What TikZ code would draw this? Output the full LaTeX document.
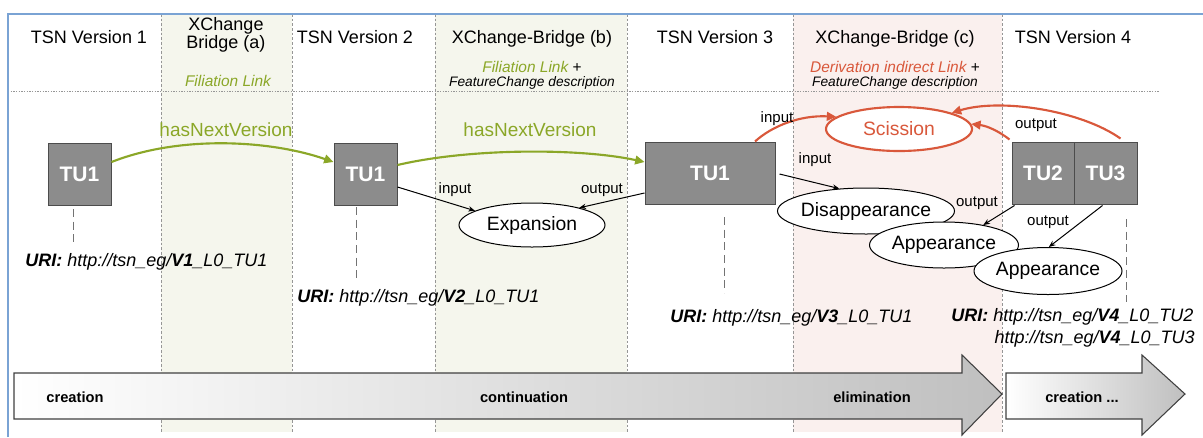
\documentclass[tikz,border=0pt]{standalone}
\usepackage{fontspec}
\setmainfont{Liberation Sans}
\usetikzlibrary{shapes.geometric,arrows.meta,calc}
\definecolor{frameblue}{RGB}{122,163,212}
\definecolor{bandgreen}{RGB}{245,246,237}
\definecolor{bandred}{RGB}{250,240,238}
\definecolor{olive}{RGB}{139,167,40}
\definecolor{redc}{RGB}{217,88,59}
\definecolor{tugray}{RGB}{140,140,140}
\definecolor{sepgray}{RGB}{150,150,150}
\begin{document}
\begin{tikzpicture}[x=0.75pt,y=-0.75pt,
 hdr/.style={font=\fontsize{13.5pt}{13.5pt}\selectfont, align=center, inner sep=0, anchor=base},
 sub/.style={font=\fontsize{11.6pt}{13pt}\selectfont, inner sep=0, anchor=base},
 subsmall/.style={font=\fontsize{10.3pt}{12pt}\selectfont\itshape, inner sep=0, anchor=base},
 hnv/.style={text=olive, font=\fontsize{14.25pt}{16pt}\selectfont, inner sep=0, anchor=base},
 tu/.style={draw=black!70, fill=tugray, text=white, font=\bfseries\fontsize{15.75pt}{18pt}\selectfont, inner sep=0, line width=0.75pt, minimum height=46.5pt},
 ev/.style={ellipse, draw, fill=white, inner sep=0, inner xsep=-4pt, font=\fontsize{14.5pt}{17pt}\selectfont, line width=0.75pt},
 io/.style={font=\fontsize{11.25pt}{13pt}\selectfont, inner sep=0, anchor=base},
 uri/.style={font=\fontsize{13.5pt}{16.5pt}\selectfont\itshape, inner sep=0},
 stem/.style={draw=black!55, dash pattern=on 6pt off 3.5pt, line width=0.6pt},
 link/.style={draw, line width=0.75pt, -{Stealth[length=5pt,width=4pt]}},
 grn/.style={draw=olive, line width=1.6pt, -{Triangle[length=7pt,width=6.5pt]}},
 redl/.style={draw=redc, line width=1.6pt, -{Triangle[length=7pt,width=6.5pt]}},
 phase/.style={draw=black!75, line width=0.8pt, left color=white, right color=black!25},
 phtext/.style={font=\bfseries\fontsize{11pt}{13pt}\selectfont, inner sep=0}
]
\useasboundingbox (0,0) rectangle (1203,437);
% bands
\fill[bandgreen] (161,14) rectangle (292,432);
\fill[bandgreen] (435,14) rectangle (627,432);
\fill[bandred] (793,14) rectangle (1002,432);
\foreach \x in {161,292,435,627,793,1002}
  \draw[sepgray, dash pattern=on 2pt off 1.5pt, line width=0.5pt] (\x,14) -- (\x,432);
\draw[sepgray, dash pattern=on 1pt off 1pt, line width=0.6pt] (8,91) -- (1160,91);
\draw[frameblue, line width=1.5pt] (8,437) -- (8,14) -- (1203,14);

% headers
\node[hdr] (h1) at (89,43) {TSN Version 1};
\node[hdr, anchor=center] (ha) at (226,35) {XChange\\Bridge (a)};
\node[hdr] (h2) at (355,43) {TSN Version 2};
\node[hdr] (hb) at (532,43) {XChange-Bridge (b)};
\node[hdr] (h3) at (715,43) {TSN Version 3};
\node[hdr] (hc) at (895,43) {XChange-Bridge (c)};
\node[hdr] (h4) at (1073,43) {TSN Version 4};

\node[sub, text=olive] (sa) at (228,86) {\itshape Filiation Link};
\node[sub] (sb1) at (532,72) {{\color{olive}\itshape Filiation Link} +};
\node[subsmall] (sb2) at (532,86) {FeatureChange description};
\node[sub] (sc1) at (895,72) {{\color{redc}\itshape Derivation indirect Link} +};
\node[subsmall] (sc2) at (895,86) {FeatureChange description};

\node[hnv] (n1) at (226,136) {hasNextVersion};
\node[hnv] (n2) at (530,136) {hasNextVersion};

% TU boxes
\node[tu, minimum width=47.25pt] (v1) at (79.5,174) {TU1};
\node[tu, minimum width=47.25pt] (v2) at (365.5,174) {TU1};
\node[tu, minimum width=97.5pt] (v3) at (710,173) {TU1};
\node[tu, minimum width=46.5pt] (tu2) at (1043,173) {TU2};
\node[tu, minimum width=47.25pt] (tu3) at (1105.5,173) {TU3};

% stems
\draw[stem] (73,209) -- (73,247);
\draw[stem] (356,207) -- (356,283);
\draw[stem] (724,217) -- (724,293);
\draw[stem] (1126,219) -- (1126,302);

% URIs
\node[uri, anchor=base west] (u1) at (25,266) {{\bfseries URI:} http://tsn\_eg/{\bfseries V1}\_L0\_TU1};
\node[uri, anchor=base west] (u2) at (297,302) {{\bfseries URI:} http://tsn\_eg/{\bfseries V2}\_L0\_TU1};
\node[uri, anchor=base west] (u3) at (670,322) {{\bfseries URI:} http://tsn\_eg/{\bfseries V3}\_L0\_TU1};
\node[uri, anchor=base west] (u4) at (951,321) {{\bfseries URI:} http://tsn\_eg/{\bfseries V4}\_L0\_TU2};
\node[uri, anchor=base east] (u5) at (1195,343) {http://tsn\_eg/{\bfseries V4}\_L0\_TU3};

% ellipses
\node[ev, minimum width=109.5pt, minimum height=33pt] (exp) at (532,225) {Expansion};
\node[ev, draw=redc, text=redc, line width=1.6pt, minimum width=109.5pt, minimum height=33pt] (sc) at (899,129) {Scission};
\node[ev, minimum width=132.75pt, minimum height=34.5pt] (dis) at (866,211) {Disappearance};
\node[ev, minimum width=111.75pt, minimum height=34.5pt] (app1) at (944,245) {Appearance};
\node[ev, minimum width=111pt, minimum height=35.25pt] (app2) at (1048,271) {Appearance};

% green links
\draw[grn] ($(v1.east)+(0,-12)$) .. controls (180,135) and (270,140) .. ($(v2.west)+(0,-12)$);
\draw[grn] ($(v2.east)+(0,-9)$) .. controls (470,148) and (580,148) .. ($(v3.west)+(0,-11)$);

% red links
\draw[redl] ($(v3.north)+(45,0)$) .. controls (772,126) and (800,115) .. (sc.169);
\draw[redl] ($(tu3.north)+(15,-3)$) .. controls (1080,110) and (1000,98) .. (sc.17);
\draw[redl] ($(tu2.north west)+(-2,-2)$) .. controls (1000,132) and (988,126) .. (sc.4);

% black links
\draw[link] ($(v2.east)+(0,13)$) -- (exp.166);
\draw[link] ($(v3.west)+(0,20)$) -- (exp.20);
\draw[link] ($(v3.east)+(4,1)$) -- (dis.140);
\draw[link] ($(tu2.south west)+(3,1)$) -- (app1.27);
\draw[link] ($(tu3.south)+(-3,1)$) -- (app2.88);

% io labels
\node[io] (i1) at (455,193) {input};
\node[io] (o1) at (602,193) {output};
\node[io] (i2) at (777,122) {input};
\node[io] (o2) at (1036,128) {output};
\node[io] (i3) at (815,163) {input};
\node[io] (o3) at (977,206) {output};
\node[io] (o4) at (1048,225) {output};

% phase arrows
\path[phase] (14,373) -- (962,373) -- (962,355) -- (1002,394) -- (962,435) -- (962,419) -- (14,419) -- cycle;
\path[phase] (1006,373) -- (1142,373) -- (1142,355) -- (1185,394) -- (1142,435) -- (1142,419) -- (1006,419) -- cycle;
\node[phtext] (p1) at (75,397) {creation};
\node[phtext] (p2) at (524,397) {continuation};
\node[phtext] (p3) at (872,397) {elimination};
\node[phtext] (p4) at (1082,397) {creation ...};
\end{tikzpicture}
\end{document}
